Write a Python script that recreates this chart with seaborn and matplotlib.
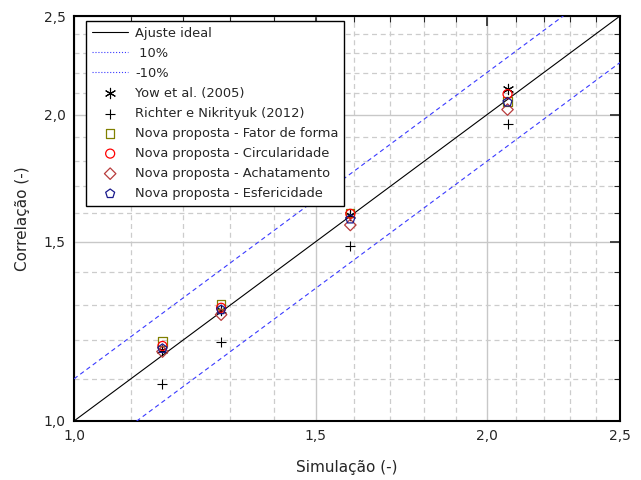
import numpy as np
import pandas as pd
import seaborn as sns
import matplotlib
matplotlib.use("Agg")
import matplotlib.pyplot as plt
from matplotlib.ticker import FixedLocator, FixedFormatter, NullFormatter

# --- data ---
sim_x = [1.16, 1.28, 1.59, 2.07]

yow = [1.175, 1.285, 1.595, 2.12]
richter = [1.087, 1.195, 1.485, 1.959]
fator_forma = [1.197, 1.302, 1.600, 2.060]
circularidade = [1.185, 1.292, 1.598, 2.095]
achatamento = [1.170, 1.272, 1.558, 2.023]
esfericidade = [1.178, 1.286, 1.579, 2.057]

ref_x = [1.0, 2.5]
major_ticks = [1.0, 1.5, 2.0, 2.5]
major_labels = ["1,0", "1,5", "2,0", "2,5"]
minor_ticks = [1.1, 1.2, 1.3, 1.4, 1.6, 1.7, 1.8, 1.9, 2.1, 2.2, 2.3, 2.4]

sns.set_style("white")
plt.rcParams['font.family'] = ['DejaVu Sans']

fig = plt.figure(figsize=(6.41, 4.8), dpi=100)
ax = fig.add_axes([74 / 641, 59 / 480, 546 / 641, 405 / 480])
ax.set_xscale('log')
ax.set_yscale('log')

# reference lines
ref = pd.DataFrame({'x': ref_x})
sns.lineplot(x=ref['x'], y=ref['x'], ax=ax, color='black', lw=0.8,
             label='Ajuste ideal', zorder=3)
sns.lineplot(x=ref['x'], y=ref['x'] * 1.1, ax=ax, color='#3a3aff', lw=0.8,
             linestyle=(0, (4, 3)), label=' 10%', zorder=3)
sns.lineplot(x=ref['x'], y=ref['x'] * 0.9, ax=ax, color='#3a3aff', lw=0.8,
             linestyle=(0, (4, 3)), label='-10%', zorder=3)

# point series
series = [
    ('Yow et al. (2005)', yow, (6, 2, 0), 'black', True, 55),
    ('Richter e Nikrityuk (2012)', richter, '+', 'black', True, 55),
    ('Nova proposta - Fator de forma', fator_forma, 's', '#808000', False, 36),
    ('Nova proposta - Circularidade', circularidade, 'o', '#ff0000', False, 42),
    ('Nova proposta - Achatamento', achatamento, 'D', '#b83c3c', False, 34),
    ('Nova proposta - Esfericidade', esfericidade, 'p', '#1a1a8c', False, 46),
]
for name, vals, mk, col, lineonly, size in series:
    df = pd.DataFrame({'x': sim_x, 'y': vals})
    if lineonly:
        sns.scatterplot(data=df, x='x', y='y', ax=ax, marker=mk, color=col,
                        s=size, linewidth=0.8, label=name, zorder=4)
    else:
        sns.scatterplot(data=df, x='x', y='y', ax=ax, marker=mk,
                        facecolors='none', edgecolor=col, s=size,
                        linewidth=0.9, label=name, zorder=4)

ax.set_xlim(1.0, 2.5)
ax.set_ylim(1.0, 2.5)

for axis in (ax.xaxis, ax.yaxis):
    axis.set_major_locator(FixedLocator(major_ticks))
    axis.set_major_formatter(FixedFormatter(major_labels))
    axis.set_minor_locator(FixedLocator(minor_ticks))
    axis.set_minor_formatter(NullFormatter())

ax.tick_params(which='major', direction='in', length=7, width=1.2,
               top=True, right=True, labelsize=10, pad=6)
ax.tick_params(which='minor', direction='in', length=4, width=0.8,
               top=True, right=True)

ax.grid(which='major', color='#c8c8c8', lw=1.0, linestyle='-')
ax.grid(which='minor', color='#cccccc', lw=0.9, linestyle=(0, (4, 3)))
ax.set_axisbelow(True)

for sp in ax.spines.values():
    sp.set_color('black')
    sp.set_linewidth(1.5)

ax.set_xlabel('Simulação (-)', fontsize=11, labelpad=12)
ax.set_ylabel('Correlação (-)', fontsize=11, labelpad=10)

leg = ax.legend(loc='upper left', bbox_to_anchor=(0.022, 0.988),
                borderaxespad=0, fontsize=9.4, frameon=True, fancybox=False,
                framealpha=1, edgecolor='black', handlelength=2.8,
                handletextpad=0.5, labelspacing=0.54, borderpad=0.45)
leg.get_frame().set_linewidth(1.0)
# the legend shows the +/-10% lines dotted
for h in leg.get_lines()[1:3]:
    h.set_linestyle(':')

fig.savefig('out.png', dpi=100)
